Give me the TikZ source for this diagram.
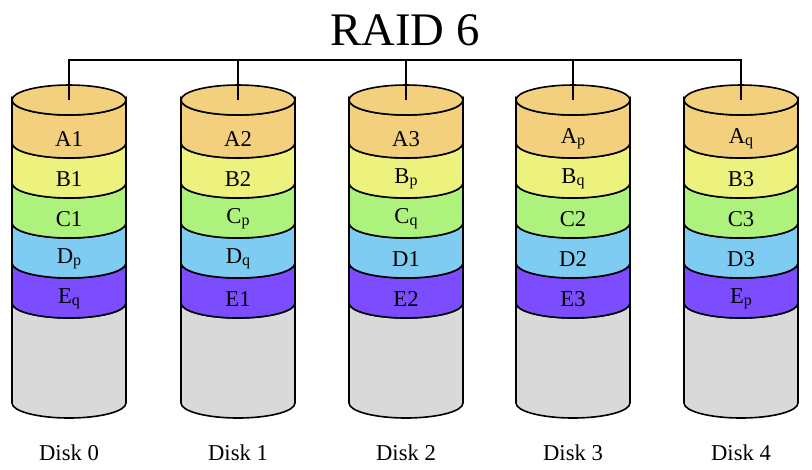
\documentclass[tikz,border=0pt]{standalone}
\usepackage{fontspec}
\setmainfont{Liberation Serif}
\definecolor{cA}{HTML}{F2D07E}
\definecolor{cB}{HTML}{EDF27E}
\definecolor{cC}{HTML}{AEF27E}
\definecolor{cD}{HTML}{7ECCF2}
\definecolor{cE}{HTML}{7B4DFF}
\definecolor{cG}{HTML}{D9D9D9}
\newcommand{\sbs}[1]{{\fontsize{12}{12}\selectfont\raisebox{-1.5pt}{#1}}}
\begin{document}
\begin{tikzpicture}[x=0.75pt,y=-0.75pt,line width=1.2pt,
  lab/.style={font=\fontsize{17}{17}\selectfont,inner sep=0pt}]
\useasboundingbox (0,0) rectangle (812,469);
\node[font=\fontsize{35}{35}\selectfont,inner sep=0pt] (title) at (405,30) {RAID 6};
\def\rx{42.75pt}\def\ry{11.25pt}
\newcommand{\band}[4]{% cx, y1, y2, color
  \filldraw[fill=#4] (#1-57,#2) -- (#1-57,#3) arc[start angle=180,end angle=360,x radius=\rx,y radius=\ry] -- (#1+57,#2) arc[start angle=360,end angle=180,x radius=\rx,y radius=\ry] -- cycle;}
\foreach \cx/\i/\a/\b/\c/\d/\e in {69/0/A1/B1/C1/D\sbs{p}/E\sbs{q},238/1/A2/B2/C\sbs{p}/D\sbs{q}/E1,406/2/A3/B\sbs{p}/C\sbs{q}/D1/E2,573/3/A\sbs{p}/B\sbs{q}/C2/D2/E3,741/4/A\sbs{q}/B3/C3/D3/E\sbs{p}}{
  \band{\cx}{303}{403}{cG}
  \band{\cx}{263}{303}{cE}
  \band{\cx}{223}{263}{cD}
  \band{\cx}{183}{223}{cC}
  \band{\cx}{143}{183}{cB}
  \band{\cx}{100}{143}{cA}
  \filldraw[fill=cA] (\cx,100) ellipse[x radius=\rx,y radius=\ry];
  \coordinate (top\i) at (\cx,100);
  \node[lab] at (\cx,139) {\a};
  \node[lab] at (\cx,179) {\b};
  \node[lab] at (\cx,219) {\c};
  \node[lab] at (\cx,259) {\d};
  \node[lab] at (\cx,299) {\e};
  \node[lab] (disk\i) at (\cx,453) {Disk \i};
}
\coordinate (bus) at (0,60);
\draw[line width=1pt] (top0) -- (top0|-bus) -- (top4|-bus) -- (top4);
\foreach \i in {1,2,3} \draw[line width=1pt] (top\i|-bus) -- (top\i);
\end{tikzpicture}
\end{document}
